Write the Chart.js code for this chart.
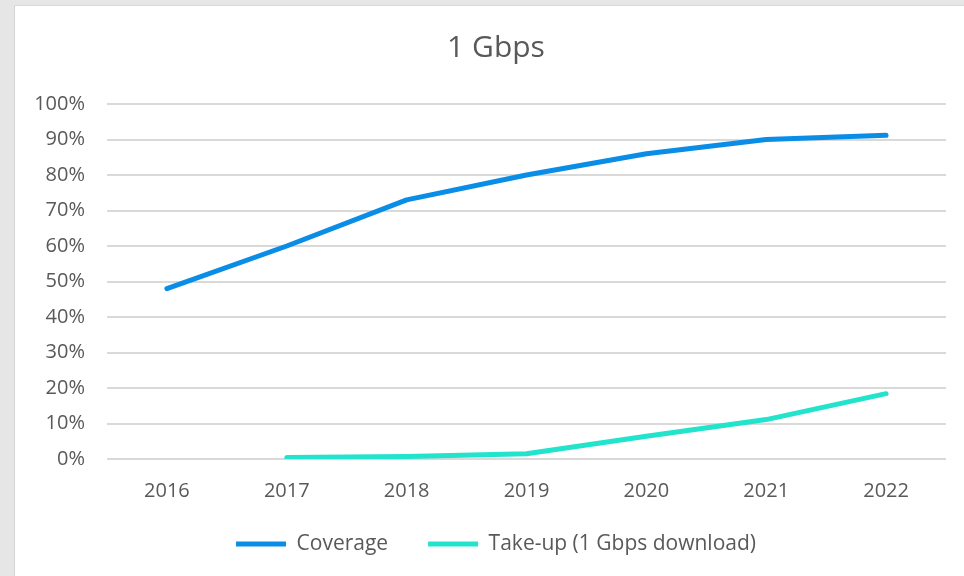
<!DOCTYPE html>
<html>
<head>
<meta charset="utf-8">
<script src="https://cdn.jsdelivr.net/npm/chart.js@4/dist/chart.umd.min.js"></script>
<style>
  html, body { margin: 0; padding: 0; background: #e6e6e6; overflow: hidden; }
  #frame {
    position: absolute; left: 14px; top: 5px; width: 950px; height: 571px;
    background: #fff; border-left: 1px solid #d4d4d4; border-top: 1px solid #d9d9d9;
    box-sizing: border-box; overflow: hidden;
  }
  #wrap { position: absolute; left: 0; top: 0; width: 996px; height: 571px; }
</style>
</head>
<body>
<div id="frame"><div id="wrap"><canvas id="chart"></canvas></div></div>
<script>
const years = ['2016', '2017', '2018', '2019', '2020', '2021', '2022'];
const coverage = [48, 60, 73, 80, 86, 90, 91.2];
const takeUp = [null, 0.4, 0.7, 1.5, 6.4, 11.1, 18.4];
const yTicks = [0, 10, 20, 30, 40, 50, 60, 70, 80, 90, 100];

const fontFamily = '"Open Sans", Lato, sans-serif';
const grey = '#595959';

// title and legend sit centred on the whole frame, not on the plot
const nudgeBoxes = {
  id: 'nudgeBoxes',
  afterLayout(chart) {
    [chart.titleBlock, chart.legend].forEach(box => {
      box.left += 15.5;
      box.right += 15.5;
    });
    chart.legend.top -= 10.5;
    chart.legend.bottom -= 10.5;
  },
};

new Chart(document.getElementById('chart'), {
  type: 'line',
  data: {
    labels: years,
    datasets: [{
      label: 'Coverage',
      data: coverage,
      borderColor: '#0a8de6',
      backgroundColor: '#0a8de6',
      borderWidth: 5,
      borderCapStyle: 'round',
      borderJoinStyle: 'round',
      pointRadius: 0,
      tension: 0,
    }, {
      label: 'Take-up (1 Gbps download)',
      data: takeUp,
      borderColor: '#22e3cc',
      backgroundColor: '#22e3cc',
      borderWidth: 5,
      borderCapStyle: 'round',
      borderJoinStyle: 'round',
      pointRadius: 0,
      tension: 0,
    }],
  },
  plugins: [nudgeBoxes],
  options: {
    responsive: true,
    maintainAspectRatio: false,
    animation: false,
    layout: { padding: { left: 0, right: 65, top: 0, bottom: 2 } },
    plugins: {
      title: {
        display: true,
        text: '1 Gbps',
        color: grey,
        font: { family: fontFamily, size: 30, weight: 'normal' },
        padding: { top: 24, bottom: 38 },
      },
      legend: {
        position: 'bottom',
        labels: {
          usePointStyle: true,
          pointStyle: 'line',
          pointStyleWidth: 50,
          color: grey,
          font: { family: fontFamily, size: 21 },
          padding: 40,
        },
      },
      tooltip: { enabled: false },
    },
    scales: {
      x: {
        offset: true,
        afterFit: scale => { scale.height = 45; },
        grid: { display: false, drawTicks: false },
        border: { display: false },
        ticks: { color: grey, font: { family: fontFamily, size: 20 }, padding: 20 },
      },
      y: {
        min: 0,
        max: 100,
        afterFit: scale => { scale.width = 92; },
        afterBuildTicks: scale => { scale.ticks = yTicks.map(value => ({ value })); },
        grid: { color: '#d9d9d9', lineWidth: 2, drawTicks: false },
        border: { display: false },
        ticks: {
          color: grey,
          font: { family: fontFamily, size: 20 },
          padding: 22,
          callback: value => value + '%',
        },
      },
    },
  },
});
</script>
</body>
</html>
